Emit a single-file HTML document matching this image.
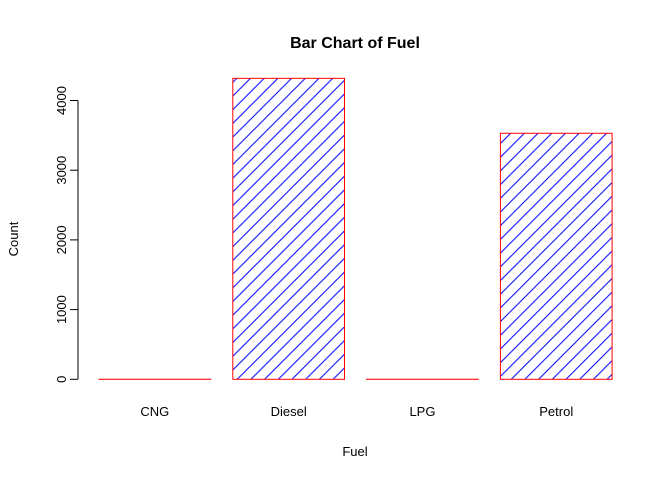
<!DOCTYPE html>
<html><head><meta charset="utf-8"><style>
body{margin:0;background:#fff;}
svg text{font-family:"Liberation Sans",Arial,sans-serif;}
</style></head><body>
<svg id="chart" width="672" height="480" viewBox="0 0 672 480" xmlns="http://www.w3.org/2000/svg">
<defs>
<pattern id="hatch" patternUnits="userSpaceOnUse" width="13.7" height="13.7">
<line x1="0" y1="13.7" x2="13.7" y2="0" stroke="#0000ff" stroke-width="1"/>
<line x1="-3" y1="3" x2="3" y2="-3" stroke="#0000ff" stroke-width="1"/>
<line x1="10.7" y1="16.7" x2="16.7" y2="10.7" stroke="#0000ff" stroke-width="1"/>
</pattern>
</defs>
<text x="355" y="48" text-anchor="middle" font-size="16" font-weight="bold">Bar Chart of Fuel</text>
<text x="355" y="456" text-anchor="middle" font-size="13">Fuel</text>
<text transform="translate(18,239) rotate(-90)" text-anchor="middle" font-size="13">Count</text>
<g id="bars"></g>
<g id="yaxis"></g>
<g id="xlabels"></g>
</svg>
<script>
const categories = ["CNG","Diesel","LPG","Petrol"];
const counts = [1, 4318, 1, 3530];
const yTicks = [0,1000,2000,3000,4000];

const NS="http://www.w3.org/2000/svg";
const y0=379.3, pxPer=0.0697;
function yScale(v){return y0 - v*pxPer;}
function xLeft(i){return 99 + i*133.8;}
const bw=111.7;

const bars=document.getElementById('bars');
categories.forEach((c,i)=>{
  const r=document.createElementNS(NS,'rect');
  const top=yScale(counts[i]);
  r.setAttribute('x',xLeft(i));
  r.setAttribute('y',top);
  r.setAttribute('width',bw);
  r.setAttribute('height',Math.max(0,y0-top));
  r.setAttribute('fill','url(#hatch)');
  r.setAttribute('stroke','#ff0000');
  r.setAttribute('stroke-width','1');
  
  
  bars.appendChild(r);
  const t=document.createElementNS(NS,'text');
  t.setAttribute('x',xLeft(i)+bw/2);
  t.setAttribute('y',416);
  t.setAttribute('text-anchor','middle');
  t.setAttribute('font-size','13');
  t.textContent=c;
  
  
  document.getElementById('xlabels').appendChild(t);
});

const ya=document.getElementById('yaxis');
const ax=document.createElementNS(NS,'line');
ax.setAttribute('x1',78);ax.setAttribute('x2',78);
ax.setAttribute('y1',yScale(yTicks[0]));ax.setAttribute('y2',yScale(yTicks[yTicks.length-1]));
ax.setAttribute('stroke','#000');


ya.appendChild(ax);
yTicks.forEach(v=>{
  const y=yScale(v);
  const l=document.createElementNS(NS,'line');
  l.setAttribute('x1',70);l.setAttribute('x2',78);l.setAttribute('y1',y);l.setAttribute('y2',y);
  l.setAttribute('stroke','#000');
  
  
  ya.appendChild(l);
  const t=document.createElementNS(NS,'text');
  t.setAttribute('transform','translate(66,'+y+') rotate(-90)');
  t.setAttribute('text-anchor','middle');
  t.setAttribute('font-size','13');
  t.textContent=v;
  
  
  ya.appendChild(t);
});
</script>
</body></html>
